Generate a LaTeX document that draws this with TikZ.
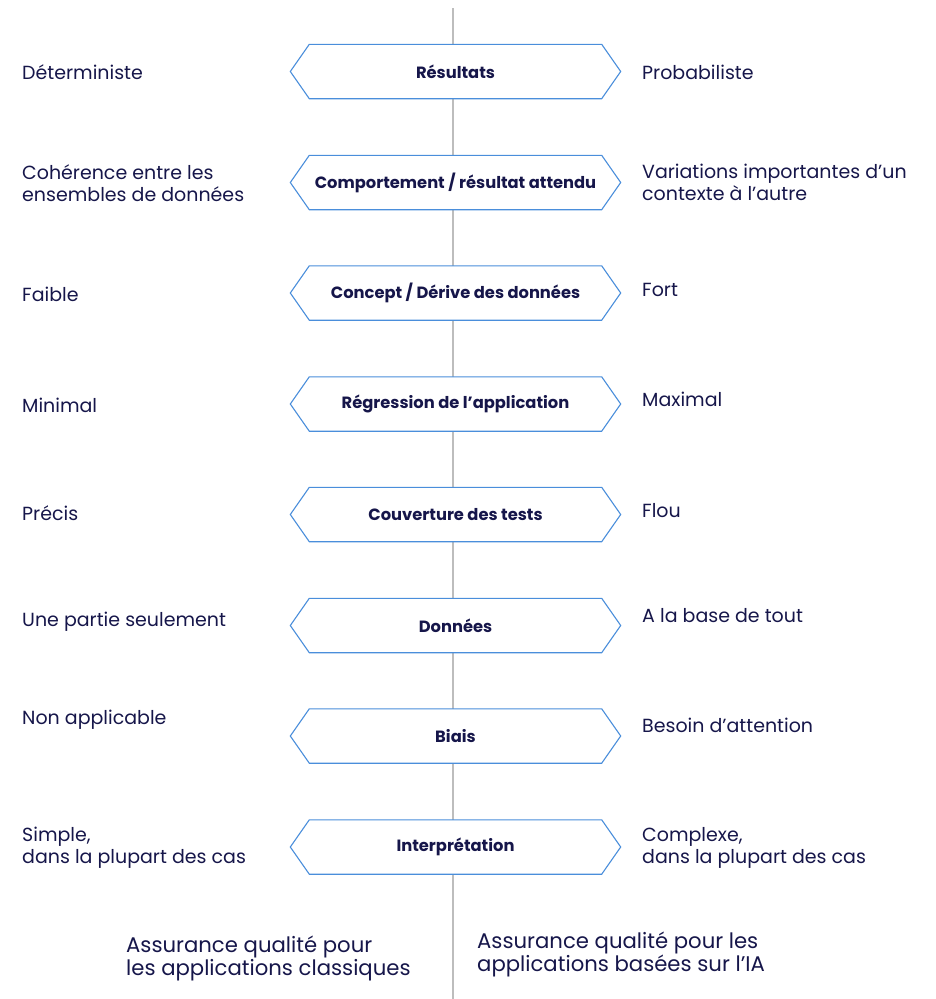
\documentclass[tikz,border=0pt]{standalone}
\usepackage{fontspec}
\setmainfont{Poppins}
\definecolor{navy}{HTML}{16164A}
\definecolor{boxblue}{HTML}{4A8EDB}
\definecolor{midgrey}{HTML}{BDBDBD}
\tikzset{
  side/.style={anchor=west, align=left, text=navy, inner sep=0pt, font=\fontsize{19}{22}\selectfont},
  boxlabel/.style={minimum width=292pt, minimum height=54pt, inner sep=0pt, text=navy, font=\fontsize{16.3}{18}\selectfont\bfseries},
  hexline/.style={draw=boxblue, line width=1.1pt, fill=white, line join=miter},
  foot/.style={anchor=west, align=left, text=navy, inner sep=0pt, font=\fontsize{21.2}{23}\selectfont},
  axis/.style={draw=midgrey, line width=2.2pt}
}
\newcommand{\hexbox}[3]{%
  \node[boxlabel] (#1) at (455.5,#2) {};
  \path[hexline] ([xshift=-19pt]#1.west) -- (#1.north west) -- (#1.north east) -- ([xshift=19pt]#1.east) -- (#1.south east) -- (#1.south west) -- cycle;
  \node[boxlabel] at (#1.center) {#3};
}
\begin{document}
\begin{tikzpicture}[x=1pt,y=-1pt]
\useasboundingbox (0,0) rectangle (935,999);
\coordinate (top) at (453,8);
\coordinate (bot) at (453,999);
\draw[axis] (top) -- (bot);

\hexbox{b1}{71.5}{Résultats}
\hexbox{b2}{182.5}{Comportement / résultat attendu}
\hexbox{b3}{293}{Concept / Dérive des données}
\hexbox{b4}{404}{Régression de l’application}
\hexbox{b5}{514.5}{Couverture des tests}
\hexbox{b6}{625.5}{Données}
\hexbox{b7}{736}{Biais}
\hexbox{b8}{847}{Interprétation}

\node[side] (l1) at (22,72) {Déterministe};
\node[side] (l2) at (22,183) {Cohérence entre les\\ensembles de données};
\node[side] (l3) at (22,294) {Faible};
\node[side] (l4) at (22,405) {Minimal};
\node[side] (l5) at (22,513) {Précis};
\node[side] (l6) at (22,622) {Une partie seulement};
\node[side] (l7) at (22,720) {Non applicable};
\node[side] (l8) at (22,847.5) {Simple,\\dans la plupart des cas};

\node[side] (r1) at (642,72) {Probabiliste};
\node[side] (r2) at (642,182) {Variations importantes d’un\\contexte à l’autre};
\node[side] (r3) at (642,290) {Fort};
\node[side] (r4) at (642,399) {Maximal};
\node[side] (r5) at (642,511) {Flou};
\node[side] (r6) at (642,616) {A la base de tout};
\node[side] (r7) at (642,725) {Besoin d’attention};
\node[side] (r8) at (642,847.5) {Complexe,\\dans la plupart des cas};

\node[foot] (f1) at (126,958) {Assurance qualité pour\\les applications classiques};
\node[foot] (f2) at (477,954.5) {Assurance qualité pour les\\applications basées sur l’IA};
\end{tikzpicture}
\end{document}
